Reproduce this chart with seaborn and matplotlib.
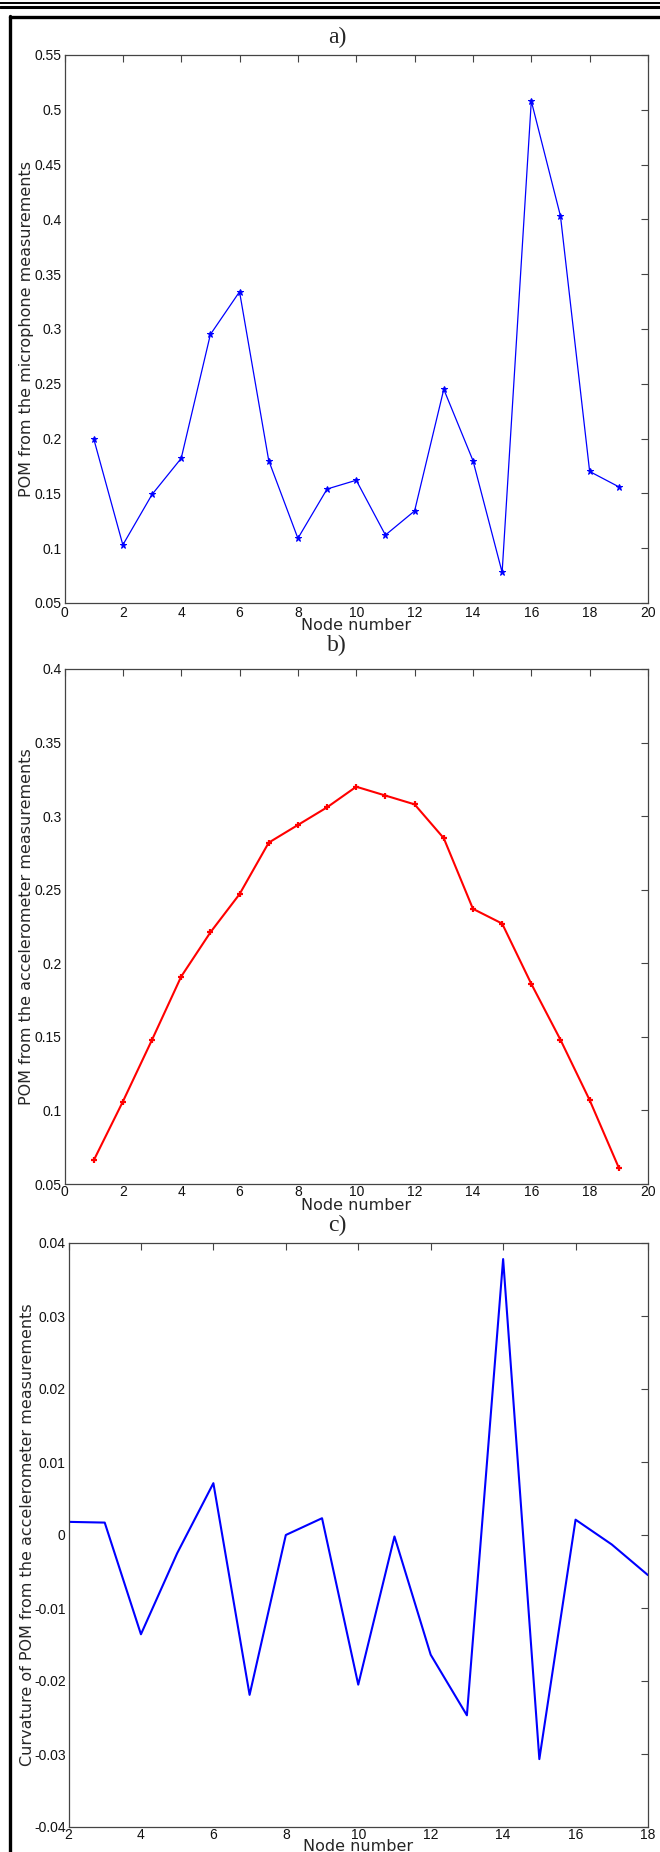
"""
Three stacked POM panels (microphone, accelerometer, curvature),
MATLAB-like look, saved to out.png.
"""

import pandas as pd
import seaborn as sns
import matplotlib.pyplot as plt
from matplotlib.lines import Line2D
from matplotlib.ticker import FuncFormatter

# =============================
# DATA
# =============================

nodes = list(range(1, 20))

pom_mic = [0.200, 0.103, 0.149, 0.182, 0.295, 0.334, 0.180, 0.109, 0.154, 0.162,
           0.112, 0.134, 0.245, 0.180, 0.078, 0.508, 0.403, 0.170, 0.156]

pom_acc = [0.066, 0.106, 0.148, 0.191, 0.221, 0.247, 0.282, 0.294, 0.306, 0.320,
           0.314, 0.308, 0.285, 0.237, 0.227, 0.186, 0.148, 0.107, 0.061]

curv_nodes = list(range(2, 19))
curv_acc = [0.0018, 0.0017, -0.0136, -0.0025, 0.0071, -0.0219, 0.0000, 0.0023, -0.0205,
            -0.0002, -0.0164, -0.0247, 0.0378, -0.0307, 0.0021, -0.0013, -0.0055]

df_a = pd.DataFrame({"node": nodes, "pom": pom_mic})
df_b = pd.DataFrame({"node": nodes, "pom": pom_acc})
df_c = pd.DataFrame({"node": curv_nodes, "curv": curv_acc})

# =============================
# STYLE
# =============================

sns.set_theme(style="white")
plt.rcParams["font.family"] = ["DejaVu Sans"]
plt.rcParams["axes.edgecolor"] = "#444444"
plt.rcParams["axes.linewidth"] = 0.9

W, H = 660, 1852
TICK_FONT = ["Liberation Sans", "DejaVu Sans"]
fig = plt.figure(figsize=(W / 100, H / 100), dpi=100)


def box(left, top, right, bottom):
    # pixel box -> figure fraction
    return [left / W, 1 - bottom / H, (right - left) / W, (bottom - top) / H]


def fmt(v, pos):
    v = round(v, 6) + 0.0
    return f"{v:g}"


def matlab_axes(ax, xticks, yticks, xlim, ylim, xpad=2):
    ax.set_xlim(*xlim)
    ax.set_ylim(*ylim)
    ax.set_xticks(xticks)
    ax.set_yticks(yticks)
    ax.xaxis.set_major_formatter(FuncFormatter(fmt))
    ax.yaxis.set_major_formatter(FuncFormatter(fmt))
    ax.tick_params(direction="in", length=5, width=0.8, color="#444444",
                   top=True, right=True, labelsize=10, labelcolor="#111111")
    ax.tick_params(axis="x", pad=xpad)
    ax.tick_params(axis="y", pad=2)
    for lab in ax.get_xticklabels() + ax.get_yticklabels():
        lab.set_family(TICK_FONT)
    for s in ax.spines.values():
        s.set_visible(True)
    ax.grid(False)


# =============================
# PANEL A
# =============================

ax_a = fig.add_axes(box(64.5, 55, 648, 603))
sns.lineplot(data=df_a, x="node", y="pom", ax=ax_a, color="blue", lw=0.9,
             marker="*", markersize=5, markeredgecolor="blue", markerfacecolor="blue")
matlab_axes(ax_a, range(0, 21, 2), [0.05 + 0.05 * i for i in range(11)], (0, 20), (0.05, 0.55))
ax_a.set_xlabel("Node number", fontsize=11.5, labelpad=-1)
ax_a.set_ylabel("POM from the microphone measurements", fontsize=11.5)
ax_a.yaxis.set_label_coords(-0.052, 0.5)

# =============================
# PANEL B
# =============================

ax_b = fig.add_axes(box(64.5, 669, 648, 1184))
sns.lineplot(data=df_b, x="node", y="pom", ax=ax_b, color="red", lw=1.5,
             marker="+", markersize=5, markeredgewidth=1.6, markeredgecolor="red")
matlab_axes(ax_b, range(0, 21, 2), [0.05 + 0.05 * i for i in range(8)], (0, 20), (0.05, 0.4),
            xpad=1)
ax_b.set_xlabel("Node number", fontsize=11.5, labelpad=-1)
ax_b.set_ylabel("POM from the accelerometer measurements", fontsize=11.5)
ax_b.yaxis.set_label_coords(-0.052, 0.5)

# =============================
# PANEL C
# =============================

ax_c = fig.add_axes(box(68.5, 1243, 648, 1827))
sns.lineplot(data=df_c, x="node", y="curv", ax=ax_c, color="blue", lw=1.5)
matlab_axes(ax_c, range(2, 19, 2), [-0.04 + 0.01 * i for i in range(9)], (2, 18), (-0.04, 0.04),
            xpad=0.5)
ax_c.set_xlabel("Node number", fontsize=11.5, labelpad=-2)
ax_c.set_ylabel("Curvature of POM from the accelerometer measurements", fontsize=11.5)
ax_c.yaxis.set_label_coords(-0.058, 0.5)

# =============================
# PANEL LETTERS + PAGE FRAME
# =============================

for letter, ypx in [("a)", 37), ("b)", 645), ("c)", 1225)]:
    fig.text(337 / W, 1 - ypx / H, letter, ha="center", va="center",
             fontsize=17, family=["Liberation Serif", "DejaVu Serif"])

fig.add_artist(Line2D([0, 1], [1 - 2.5 / H] * 2, color="black", lw=1.4))
fig.add_artist(Line2D([0, 1], [1 - 7 / H] * 2, color="black", lw=2.2))
fig.add_artist(Line2D([9.5 / W, 1], [1 - 17 / H] * 2, color="black", lw=2.4))
fig.add_artist(Line2D([10 / W] * 2, [1 - 16 / H, 0], color="black", lw=2.4))

fig.savefig("out.png", dpi=100)
print("done")
